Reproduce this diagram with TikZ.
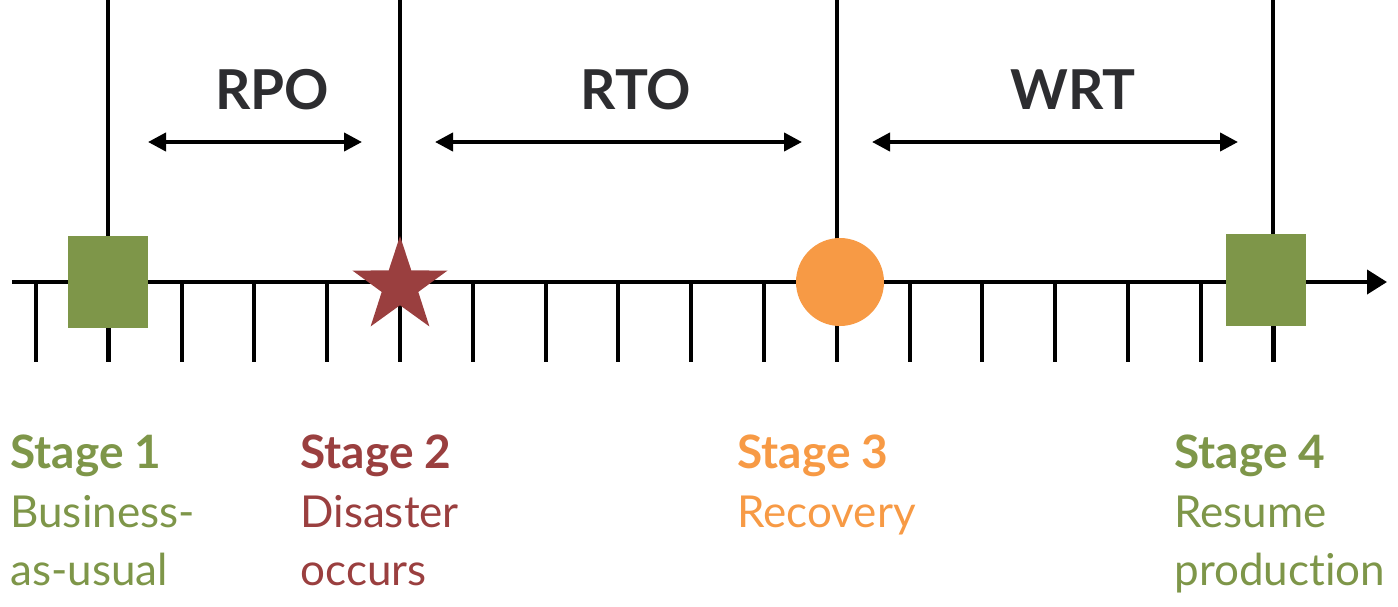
\documentclass[tikz,border=0pt]{standalone}
\usepackage{fontspec}
\setmainfont{Lato}[Ligatures=NoCommon]
\usepackage{tikz}
\usetikzlibrary{arrows.meta,positioning,shapes.geometric}

\definecolor{stagegreen}{RGB}{126,150,73}
\definecolor{stagered}{RGB}{154,63,63}
\definecolor{stageorange}{RGB}{247,154,69}
\definecolor{labelgray}{RGB}{45,45,48}

\begin{document}
\begin{tikzpicture}[
    x=0.5pt, y=-0.5pt,
    axis/.style={line width=2pt, -{Triangle[length=10pt,width=12pt]}},
    timeline/.style={line width=2pt},
    span/.style={line width=2pt, {Triangle[length=9pt,width=9pt]}-{Triangle[length=9pt,width=9pt]}},
    spanlabel/.style={font=\fontsize{27.5pt}{30pt}\selectfont\bfseries, text=labelgray, inner sep=0pt},
    stagehead/.style={font=\fontsize{23pt}{29pt}\selectfont\bfseries, anchor=base west, inner sep=0pt},
    stagetext/.style={font=\fontsize{22pt}{29pt}\selectfont, anchor=base west, inner sep=0pt, align=left},
    marker/.style={minimum width=40pt, minimum height=46pt, inner sep=0pt, fill=stagegreen}
]
\useasboundingbox (0,0) rectangle (1398,606);

% stage positions on the axis
\coordinate (s1) at (108,282);
\coordinate (s2) at (400,282);
\coordinate (s3) at (837,282);
\coordinate (s4) at (1273,282);
\coordinate (start) at (12,282);
\coordinate (end) at (1387,282);

% ticks
\foreach \i in {0,...,17}
    \draw[timeline] (36+72.8*\i,282) -- (36+72.8*\i,362);
\foreach \s in {s1,s2,s3,s4}
    \draw[timeline] (\s) ++(0,-282) -- ++(0,362);
\draw[axis] (start) -- (end);

% markers
\node[marker] (m1) at (s1) {};
\node[star, star points=5, star point ratio=2.6, minimum size=50pt, inner sep=0pt, fill=stagered] (m2) at (400,286) {};
\node[circle, minimum size=44pt, inner sep=0pt, fill=stageorange] (m3) at (840,282) {};
\node[marker] (m4) at (1266,280) {};

% spans
\coordinate (rpoL) at (148,142);
\coordinate (rpoR) at (362,142);
\coordinate (rtoL) at (435,142);
\coordinate (rtoR) at (802,142);
\coordinate (wrtL) at (872,142);
\coordinate (wrtR) at (1238,142);
\draw[span] (rpoL) -- (rpoR);
\draw[span] (rtoL) -- (rtoR);
\draw[span] (wrtL) -- (wrtR);
\node[spanlabel] (rpo) at (272,90) {RPO};
\node[spanlabel] (rto) at (636,90) {RTO};
\node[spanlabel] (wrt) at (1073,90) {WRT};

% stage captions (multi-line text sits on its last baseline)
\node[stagehead, text=stagegreen] (h1) at (10,468) {Stage 1};
\node[stagetext, text=stagegreen] (t1) at (10,585) {Business-\\as-usual};
\node[stagehead, text=stagered] (h2) at (300,468) {Stage 2};
\node[stagetext, text=stagered] (t2) at (300,585) {Disaster\\occurs};
\node[stagehead, text=stageorange] (h3) at (737,468) {Stage 3};
\node[stagetext, text=stageorange] (t3) at (737,527) {Recovery};
\node[stagehead, text=stagegreen] (h4) at (1174,468) {Stage 4};
\node[stagetext, text=stagegreen] (t4) at (1174,585) {Resume\\production};
\end{tikzpicture}
\end{document}
